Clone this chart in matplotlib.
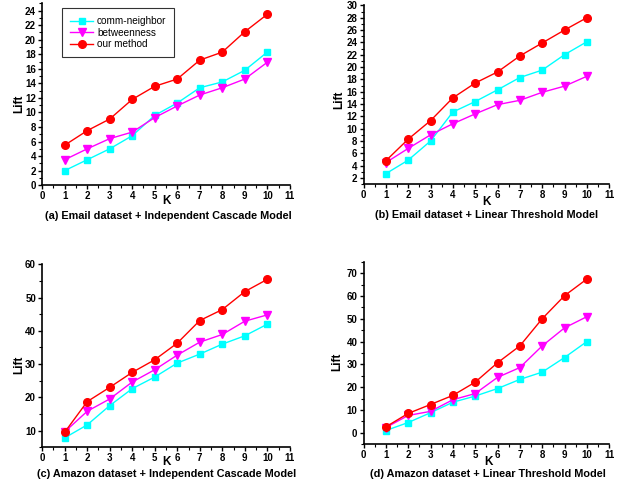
import matplotlib
matplotlib.use('Agg')
import matplotlib.pyplot as plt
from matplotlib.ticker import MultipleLocator

plt.rcParams['font.family'] = ['Liberation Sans', 'DejaVu Sans']
plt.rcParams['font.weight'] = 'bold'

k = [1, 2, 3, 4, 5, 6, 7, 8, 9, 10]
series_names = ['comm-neighbor', 'betweenness', 'our method']

# (a) Email + IC
a_comm = [2.0, 3.5, 5.0, 6.8, 9.6, 11.3, 13.4, 14.2, 15.8, 18.3]
a_betw = [3.5, 5.0, 6.4, 7.3, 9.3, 10.9, 12.4, 13.4, 14.6, 16.9]
a_ours = [5.5, 7.5, 9.1, 11.8, 13.6, 14.6, 17.2, 18.3, 21.1, 23.5]
# (b) Email + LT
b_comm = [2.7, 4.9, 8.0, 12.7, 14.4, 16.3, 18.3, 19.5, 22.0, 24.1]
b_betw = [4.5, 6.8, 9.0, 10.8, 12.4, 13.9, 14.6, 15.9, 16.9, 18.5]
b_ours = [4.8, 8.3, 11.3, 15.0, 17.4, 19.2, 21.8, 23.9, 26.0, 28.0]
# (c) Amazon + IC
c_comm = [7.8, 11.7, 17.5, 22.6, 26.1, 30.3, 33.0, 36.0, 38.5, 42.0]
c_betw = [9.6, 15.8, 19.5, 24.6, 28.3, 32.7, 36.6, 38.9, 42.9, 44.8]
c_ours = [9.5, 18.7, 23.0, 27.5, 31.3, 36.3, 43.1, 46.4, 51.8, 55.5]
# (d) Amazon + LT
d_comm = [1.0, 4.5, 8.8, 13.4, 16.1, 19.4, 23.4, 26.6, 33.0, 40.0]
d_betw = [2.3, 7.6, 9.4, 14.5, 17.2, 24.3, 28.6, 38.1, 46.0, 50.9]
d_ours = [2.6, 8.5, 12.4, 16.4, 22.2, 30.7, 38.1, 50.0, 60.1, 67.4]

titles = ['(a) Email dataset + Independent Cascade Model',
          '(b) Email dataset + Linear Threshold Model',
          '(c) Amazon dataset + Independent Cascade Model',
          '(d) Amazon dataset + Linear Threshold Model']

fig = plt.figure(figsize=(6.3, 4.86), dpi=100)

panels = [
    ([0.067, 0.619, 0.393, 0.374], (a_comm, a_betw, a_ours), (0, 25), range(0, 25, 2), 1),
    ([0.577, 0.621, 0.390, 0.368], (b_comm, b_betw, b_ours), (1, 30), range(2, 31, 2), 1),
    ([0.067, 0.080, 0.393, 0.376], (c_comm, c_betw, c_ours), (5, 60), range(10, 61, 10), 5),
    ([0.577, 0.086, 0.390, 0.3755], (d_comm, d_betw, d_ours), (-5, 75), range(0, 71, 10), 5),
]
colors = ['#00ffff', '#ff00ff', '#ff0000']
markers = ['s', 'v', 'o']
msizes = [5, 5.5, 5.5]

title_pos = [(0.267, 0.555), (0.773, 0.557), (0.265, 0.025), (0.775, 0.025)]
k_pos = [(0.265, 0.586), (0.773, 0.584), (0.265, 0.050), (0.775, 0.050)]
lift_pos = [(0.030, 0.786), (0.538, 0.794), (0.030, 0.249), (0.535, 0.255)]

for i, (rect, data, ylim, yticks, minor) in enumerate(panels):
    ax = fig.add_axes(rect)
    for ys, c, m, ms, name in zip(data, colors, markers, msizes, series_names):
        ax.plot(k, ys, color=c, marker=m, markersize=ms, linewidth=1,
                label=name, clip_on=False)
    ax.set_xlim(0, 11)
    ax.set_ylim(*ylim)
    ax.xaxis.set_major_locator(MultipleLocator(1))
    ax.xaxis.set_minor_locator(MultipleLocator(0.5))
    ax.set_yticks(list(yticks))
    ax.yaxis.set_minor_locator(MultipleLocator(minor))
    ax.spines['top'].set_visible(False)
    ax.spines['right'].set_visible(False)
    ax.spines['left'].set_linewidth(1.2)
    ax.spines['bottom'].set_linewidth(1.2)
    ax.tick_params(which='major', direction='out', length=3, width=1,
                   labelsize=7, pad=1.5)
    ax.tick_params(which='minor', direction='out', length=2, width=0.8)
    for lab in ax.get_xticklabels() + ax.get_yticklabels():
        lab.set_fontweight('bold')
    fig.text(*title_pos[i], titles[i], ha='center', va='center',
             fontsize=7.8, fontweight='bold')
    fig.text(*k_pos[i], 'K', ha='center', va='center', fontsize=8.5,
             fontweight='bold')
    fig.text(*lift_pos[i], 'Lift', ha='center', va='center', fontsize=8.5,
             fontweight='bold', rotation=90)
    if i == 0:
        leg = ax.legend(loc='upper left', bbox_to_anchor=(0.06, 1.0),
                        fontsize=7.2, frameon=True, fancybox=False,
                        edgecolor='black', borderpad=0.8, handlelength=2.3,
                        labelspacing=0.15, handletextpad=0.4)
        leg.get_frame().set_linewidth(0.8)
        for t in leg.get_texts():
            t.set_fontweight('normal')

fig.savefig('out.png', dpi=100)
